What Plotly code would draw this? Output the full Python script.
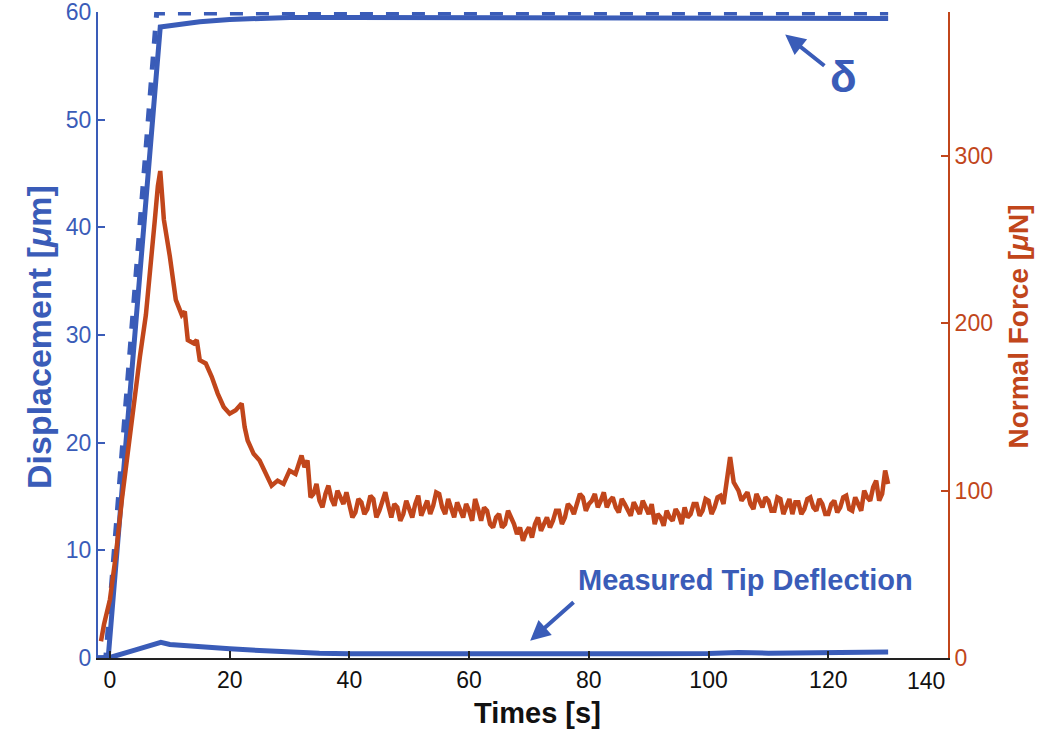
import plotly.graph_objects as go

BLUE = "#3a5cb8"
RED = "#c1461b"

# Commanded displacement delta (dashed), left axis [um]
t_cmd = [-2, -0.7, 7.8, 130]
d_cmd = [0, 0, 59.9, 59.9]

# Measured displacement (solid), left axis [um]
t_disp = [-2, -0.3, 8.4, 12, 15, 20, 25, 30, 40, 60, 80, 100, 120, 130]
d_disp = [0, 0, 58.6, 58.9, 59.1, 59.3, 59.4, 59.5, 59.5, 59.5, 59.5, 59.4, 59.4, 59.4]

# Measured tip deflection, left axis [um]
t_tip = [-2, 0, 4, 8.5, 10, 15, 20, 25, 30, 35, 40, 50, 60, 70, 80, 90, 100, 105, 110, 120, 130]
d_tip = [0, 0.05, 0.7, 1.45, 1.25, 1.0, 0.85, 0.7, 0.55, 0.45, 0.4, 0.38, 0.36, 0.35, 0.38, 0.4, 0.42, 0.5, 0.45, 0.48, 0.55]

# Normal force, right axis [uN]
t_force = [-1.5, -1, 0, 1, 2, 3, 4, 5, 6, 7, 7.5, 8, 8.4, 8.8,
           9, 10, 11, 12, 12.5, 13, 14, 14.5, 15, 16, 17, 18, 19, 20, 21, 22, 22.5, 23, 24, 25, 26, 27, 28, 29,
           30, 31, 32, 32.5, 33,
           33.5, 34, 34.5, 35, 35.5, 36, 36.5, 37, 37.5, 38, 38.5, 39, 39.5, 40,
           40.5, 41, 41.5, 42, 42.5, 43, 43.5, 44, 44.5, 45, 45.5, 46, 46.5, 47, 47.5, 48, 48.5, 49, 49.5, 50,
           50.5, 51, 51.5, 52, 52.5, 53, 53.5, 54, 54.5, 55, 55.5, 56, 56.5, 57, 57.5, 58, 58.5, 59, 59.5, 60,
           60.5, 61, 61.5, 62, 62.5, 63, 63.5, 64, 64.5, 65, 65.5, 66, 66.5, 67, 67.5, 68, 68.5, 69, 69.5, 70,
           70.5, 71, 71.5, 72, 72.5, 73, 73.5, 74, 74.5, 75, 75.5, 76, 76.5, 77, 77.5, 78, 78.5, 79, 79.5, 80,
           80.5, 81, 81.5, 82, 82.5, 83, 83.5, 84, 84.5, 85, 85.5, 86, 86.5, 87, 87.5, 88, 88.5, 89, 89.5, 90,
           90.5, 91, 91.5, 92, 92.5, 93, 93.5, 94, 94.5, 95, 95.5, 96, 96.5, 97, 97.5, 98, 98.5, 99, 99.5, 100,
           100.5, 101, 101.5, 102, 102.5, 103, 103.6, 104.2, 105,
           105.5, 106, 106.5, 107, 107.5, 108, 108.5, 109, 109.5, 110,
           110.5, 111, 111.5, 112, 112.5, 113, 113.5, 114, 114.5, 115, 115.5, 116, 116.5, 117, 117.5, 118, 118.5, 119, 119.5, 120,
           120.5, 121, 121.5, 122, 122.5, 123, 123.5, 124, 124.5, 125, 125.5, 126, 126.5, 127, 127.5, 128, 128.5, 129, 129.5, 130]
f_force = [10, 20, 35, 62, 95, 125, 150, 180, 205, 248, 262, 282, 291, 272,
           262, 240, 214, 205, 207, 190, 188, 190, 178, 176, 168, 158, 150, 146, 148, 152, 138, 130, 122, 118, 111, 103, 106, 104,
           112, 110, 121, 114, 118,
           96, 98, 104, 94, 90, 98, 103, 95, 91, 100, 96, 92, 99, 90,
           84, 87, 95, 93, 86, 89, 97, 95, 84, 88, 94, 99, 91, 84, 92, 90, 82, 86, 94, 88,
           84, 92, 97, 85, 90, 94, 86, 91, 99, 98, 90, 86, 95, 90, 84, 93, 89, 84, 92, 88,
           82, 95, 89, 82, 90, 88, 80, 78, 84, 86, 78, 80, 88, 84, 80, 74, 78, 70, 75, 78,
           72, 80, 84, 76, 80, 84, 78, 82, 88, 88, 80, 84, 92, 90, 86, 92, 98, 96, 88, 92,
           94, 98, 90, 94, 99, 90, 94, 96, 90, 87, 95, 92, 88, 85, 93, 90, 86, 94, 90, 86,
           92, 80, 86, 84, 79, 88, 84, 82, 89, 86, 80, 90, 84, 86, 92, 92, 85, 88, 95, 94,
           86, 90, 96, 97, 92, 104, 120, 105, 100,
           94, 96, 99, 92, 89, 98, 94, 90, 96, 94,
           88, 88, 96, 95, 86, 91, 95, 86, 93, 93, 86, 89, 95, 96, 90, 88, 95, 92, 86, 86,
           92, 94, 87, 90, 96, 97, 89, 88, 96, 92, 88, 100, 96, 94, 102, 106, 94, 98, 112, 104]
assert len(t_force) == len(f_force)

x_ticks = [0, 20, 40, 60, 80, 100, 120]
x_last_tick_label = "140"
y_ticks = [0, 10, 20, 30, 40, 50, 60]
y2_ticks = [0, 100, 200, 300]

FONT = "Liberation Sans, Arial, Helvetica, sans-serif"
PL, PT, PW, PH = 98, 12, 850, 646  # plot area position/size in px

fig = go.Figure()
fig.add_trace(go.Scatter(x=t_force, y=f_force, mode="lines", yaxis="y2",
                         line=dict(color=RED, width=4.5), showlegend=False))
fig.add_trace(go.Scatter(x=t_cmd, y=d_cmd, mode="lines",
                         line=dict(color=BLUE, width=5, dash="13px,13px"), showlegend=False))
fig.add_trace(go.Scatter(x=t_disp, y=d_disp, mode="lines",
                         line=dict(color=BLUE, width=5), showlegend=False))
fig.add_trace(go.Scatter(x=t_tip, y=d_tip, mode="lines",
                         line=dict(color=BLUE, width=5), showlegend=False))

fig.update_layout(
    width=1050, height=733,
    margin=dict(l=PL, r=1050 - PL - PW, t=PT, b=733 - PT - PH),
    paper_bgcolor="white", plot_bgcolor="white",
    font=dict(family=FONT),
    xaxis=dict(range=[-2, 140], tickvals=x_ticks, showgrid=False, zeroline=False, automargin=False,
               showline=True, linecolor="#222222", linewidth=2,
               ticks="inside", ticklen=7, tickcolor="#222222", tickwidth=1.5,
               tickfont=dict(size=23, color="#111111")),
    yaxis=dict(range=[0, 60], tickvals=y_ticks, showgrid=False, zeroline=False, automargin=False,
               showline=True, linecolor=BLUE, linewidth=2, ticklabeloverflow="allow",
               ticks="inside", ticklen=7, tickcolor=BLUE, tickwidth=1.5,
               tickfont=dict(size=23, color=BLUE)),
    yaxis2=dict(range=[0, 386], tickvals=y2_ticks, overlaying="y", side="right",
                showgrid=False, zeroline=False, automargin=False, ticklabeloverflow="allow",
                showline=True, linecolor=RED, linewidth=2,
                ticks="inside", ticklen=7, tickcolor=RED, tickwidth=1.5,
                tickfont=dict(size=23, color=RED)),
)

# last x tick label sits just left of the plot corner
fig.add_annotation(x=1.0, y=0, xref="paper", yref="paper", xanchor="right", yanchor="top",
                   xshift=-1, yshift=-8, text=x_last_tick_label, showarrow=False,
                   font=dict(size=23, color="#111111", family=FONT))

# axis titles
fig.add_annotation(x=(18 - PL) / PW, y=(PT + PH - 337) / PH, xref="paper", yref="paper",
                   text="<b>Displacement [<i>μ</i>m]</b>", textangle=-90, showarrow=False,
                   font=dict(size=34, color=BLUE, family=FONT))
fig.add_annotation(x=(1035 - PL) / PW, y=(PT + PH - 327) / PH, xref="paper", yref="paper",
                   text="<b>Normal Force [<i>μ</i>N]</b>", textangle=-90, showarrow=False,
                   font=dict(size=28, color=RED, family=FONT))
fig.add_annotation(x=(537 - PL) / PW, y=0, xref="paper", yref="paper", yanchor="top", yshift=-37,
                   text="<b>Times [s]</b>", showarrow=False,
                   font=dict(size=29, color="#111111", family=FONT))

# delta annotation
fig.add_annotation(x=122.5, y=54.0, xref="x", yref="y", text="<b>δ</b>", showarrow=False,
                   font=dict(size=44, color=BLUE, family=FONT))
fig.add_annotation(x=112.8, y=57.9, ax=119.6, ay=54.9, xref="x", yref="y", axref="x", ayref="y",
                   text="", showarrow=True, arrowhead=2, arrowsize=1, arrowwidth=4, arrowcolor=BLUE)
# tip deflection annotation
fig.add_annotation(x=106.2, y=7.2, xref="x", yref="y", text="<b>Measured Tip Deflection</b>", showarrow=False,
                   font=dict(size=29, color=BLUE, family=FONT))
fig.add_annotation(x=70.2, y=1.6, ax=77.7, ay=5.3, xref="x", yref="y", axref="x", ayref="y",
                   text="", showarrow=True, arrowhead=2, arrowsize=1, arrowwidth=4, arrowcolor=BLUE)

fig.write_html("out.html", config={"displayModeBar": False},
               post_script="document.body.style.margin='0px';")
